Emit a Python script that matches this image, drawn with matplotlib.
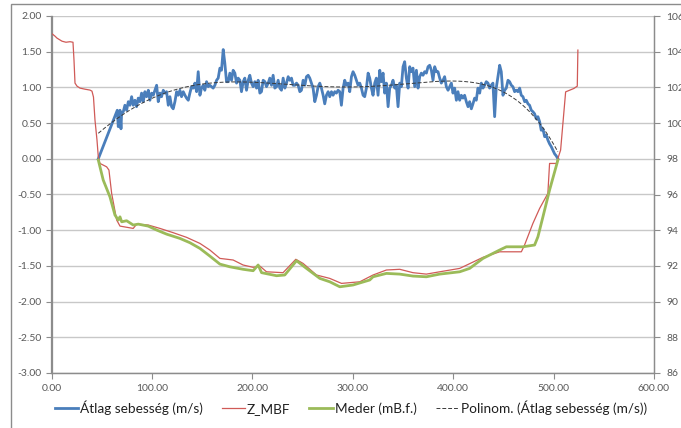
import matplotlib
matplotlib.use("Agg")
import matplotlib.pyplot as plt
import numpy as np
from matplotlib.ticker import FormatStrFormatter, MultipleLocator
from matplotlib.patches import Rectangle

# --- data ---
# mean velocity (m/s), left axis
dist_v = [46.6, 65.5, 66.5, 68.2, 69.2, 69.8, 71.5, 73.1, 74.8, 76.5, 78.1, 79.8, 81.4, 83.1, 84.7,
          86.4, 88.1, 89.7, 91.4, 93.0, 94.7, 96.4, 98.0, 99.7, 101.3, 104.7, 106.3, 108.0, 109.6,
          111.3, 112.9, 114.6, 116.3, 117.9, 119.6, 121.2, 122.9, 124.6, 126.2, 127.9, 129.5, 131.2,
          132.9, 134.5, 136.2, 137.8, 139.5, 141.1, 142.8, 144.5, 146.1, 147.8, 149.4, 151.1, 152.7,
          154.4, 156.1, 157.7, 159.4, 161.0, 162.7, 164.4, 166.0, 167.7, 169.3, 171.0, 172.6, 174.3,
          176.0, 177.6, 179.3, 180.9, 182.6, 184.3, 185.9, 187.6, 189.2, 190.9, 192.5, 194.2, 195.9,
          197.5, 199.2, 200.8, 202.5, 204.2, 205.8, 207.5, 209.1, 210.8, 212.5, 214.1, 215.8, 217.4,
          219.1, 220.7, 222.4, 224.1, 225.7, 227.4, 229.0, 230.7, 232.4, 234.0, 235.7, 237.3, 239.0,
          240.6, 242.3, 244.0, 245.6, 247.3, 248.9, 250.6, 252.3, 253.9, 255.6, 257.2, 258.9, 260.5,
          262.2, 263.9, 265.5, 267.2, 268.8, 270.5, 272.1, 273.8, 275.5, 277.1, 278.8, 280.4, 282.1,
          283.7, 285.4, 287.1, 288.7, 290.4, 292.0, 293.7, 295.4, 297.0, 298.7, 300.3, 302.0, 303.6,
          305.3, 307.0, 308.6, 310.3, 311.9, 313.6, 315.3, 316.9, 318.6, 320.2, 321.9, 323.5, 325.2,
          326.9, 328.5, 330.2, 331.8, 333.5, 335.2, 336.8, 338.5, 340.1, 341.8, 343.4, 345.1, 346.8,
          348.4, 350.1, 351.7, 353.4, 355.1, 356.7, 358.4, 360.0, 361.7, 363.4, 365.0, 366.7, 368.3,
          370.0, 371.6, 373.3, 375.0, 376.6, 378.3, 379.9, 381.6, 383.3, 384.9, 386.6, 388.2, 389.9,
          391.5, 393.2, 394.9, 396.5, 398.2, 399.8, 401.5, 403.2, 404.8, 406.5, 408.1, 409.8, 411.4,
          413.1, 414.8, 416.4, 418.1, 419.7, 421.4, 423.0, 424.7, 426.4, 428.0, 429.7, 431.3, 433.0,
          434.7, 436.3, 438.0, 439.6, 441.3, 442.9, 444.6, 446.3, 447.9, 449.6, 451.2, 452.9, 454.6,
          456.2, 457.9, 459.5, 461.2, 462.9, 464.5, 466.2, 467.8, 469.5, 471.2, 472.8, 474.5, 476.1,
          477.8, 479.4, 481.1, 482.8, 484.4, 486.1, 487.7, 489.4, 491.1, 492.7, 494.4, 496.0, 497.7,
          499.4, 501.0, 502.7, 504.3]
speed = [0.00, 0.68, 0.45, 0.68, 0.42, 0.63, 0.66, 0.75, 0.68, 0.80, 0.75, 0.87, 0.75, 0.82, 0.73,
         0.85, 0.80, 0.92, 0.80, 0.94, 0.87, 0.96, 0.82, 0.92, 0.89, 1.03, 0.80, 0.92, 0.87,
         0.96, 0.92, 0.94, 0.75, 0.87, 0.73, 0.70, 0.80, 0.94, 0.89, 0.96, 0.87, 0.94,
         0.89, 0.85, 0.82, 0.92, 1.01, 0.99, 1.06, 0.94, 1.22, 0.89, 0.99, 1.03, 0.96,
         1.08, 1.01, 1.03, 1.01, 0.99, 1.03, 1.10, 1.13, 1.27, 1.24, 1.53, 1.34, 1.08,
         1.08, 1.20, 1.10, 1.24, 1.20, 1.06, 1.13, 1.10, 0.94, 1.08, 1.13, 0.96, 1.10,
         1.17, 1.06, 1.01, 1.08, 0.99, 1.10, 0.92, 0.94, 1.10, 1.08, 1.01, 1.06, 1.13,
         1.03, 1.17, 0.99, 1.01, 1.10, 0.99, 0.96, 1.13, 0.99, 1.06, 1.15, 1.10, 1.13,
         1.03, 1.03, 1.06, 1.03, 0.94, 0.96, 1.10, 1.03, 1.15, 1.17, 1.13, 1.06, 0.99,
         0.80, 0.89, 1.01, 1.06, 0.99, 0.89, 0.77, 0.89, 0.94, 0.87, 0.94, 0.89, 0.94,
         0.92, 0.96, 0.94, 0.75, 0.99, 1.10, 1.03, 1.06, 0.94, 1.15, 1.22, 1.17, 1.10,
         1.03, 1.06, 0.99, 0.89, 0.87, 0.99, 1.20, 1.13, 0.99, 0.89, 1.06, 1.13, 0.89,
         1.24, 1.08, 1.20, 0.92, 1.06, 0.73, 0.99, 1.03, 1.10, 0.99, 1.03, 0.73, 1.06,
         1.01, 1.29, 1.36, 1.13, 0.99, 1.29, 1.22, 1.27, 1.01, 1.24, 0.99, 1.15, 1.20,
         1.17, 1.22, 1.20, 1.29, 1.31, 1.24, 1.10, 1.29, 1.22, 1.22, 1.13, 1.06, 1.10,
         1.15, 1.01, 0.96, 1.01, 1.06, 0.92, 0.99, 0.82, 0.94, 0.82, 0.89, 0.85, 0.89,
         0.80, 0.73, 0.80, 0.70, 0.77, 0.85, 0.82, 0.99, 0.92, 1.06, 0.99, 1.03, 1.08,
         1.06, 0.99, 1.03, 1.06, 0.59, 0.99, 1.15, 1.31, 1.22, 0.89, 0.96, 0.99, 1.10,
         1.08, 1.03, 1.01, 0.94, 0.96, 0.94, 0.99, 0.89, 0.87, 0.80, 0.82, 0.77, 0.75,
         0.68, 0.66, 0.63, 0.56, 0.59, 0.52, 0.40, 0.42, 0.31, 0.33, 0.26, 0.21, 0.17,
         0.12, 0.07, 0.04, 0.00]

# Z_MBF (mBf), right axis
dist_z = [0.0, 3.5, 5.5, 10.4, 14.4, 18.4, 21.4, 22.4, 23.4, 25.4, 28.4, 33.3, 38.3, 40.3, 41.8,
          43.3, 45.3, 46.6, 48.3, 54.9, 57.2, 59.9, 64.9, 68.2, 81.4, 84.8, 96.3, 108.0, 121.2,
          134.5, 147.8, 157.7, 167.7, 180.9, 190.8, 200.8, 207.5, 214.1, 230.6, 243.3, 250.5,
          263.9, 277.1, 288.8, 307.0, 320.2, 333.5, 346.8, 360.0, 373.3, 386.6, 406.5, 429.7,
          446.3, 453.0, 467.9, 471.1, 479.4, 486.1, 494.3, 496.0, 502.7, 507.0, 512.0, 520.2,
          523.6, 524.2]
z_mbf = [105.03, 104.87, 104.76, 104.59, 104.53, 104.56, 104.53, 103.53, 102.24, 102.07, 101.96,
         101.90, 101.85, 101.79, 101.46, 100.17, 99.05, 98.11, 97.74, 97.55, 97.37, 96.06, 94.57,
         94.23, 94.10, 94.34, 94.29, 94.10, 93.86, 93.60, 93.26, 92.89, 92.42, 92.33, 92.05,
         91.92, 91.99, 91.67, 91.62, 92.37, 92.14, 91.49, 91.30, 91.02, 91.11, 91.49, 91.77,
         91.81, 91.62, 91.54, 91.67, 91.86, 92.48, 92.79, 92.79, 92.79, 93.17, 94.38, 95.22,
         96.06, 97.74, 97.74, 98.49, 101.75, 101.94, 102.07, 104.09]

# Meder (mB.f.), right axis
dist_m = [46.6, 51.5, 58.2, 63.2, 66.5, 68.2, 69.9, 74.8, 81.4, 86.4, 96.3, 104.7, 114.6, 127.9,
          137.8, 147.8, 157.7, 167.7, 177.6, 190.8, 200.8, 205.8, 209.2, 224.1, 232.3, 244.0,
          253.9, 267.2, 277.1, 287.1, 300.3, 316.9, 320.2, 333.5, 346.8, 360.0, 373.3, 386.6,
          406.5, 416.4, 429.7, 446.3, 453.0, 469.5, 481.1, 484.4, 489.4, 496.0, 504.3]
meder = [97.93, 96.81, 95.87, 94.85, 94.57, 94.75, 94.47, 94.53, 94.29, 94.34, 94.23, 94.01,
         93.78, 93.54, 93.30, 92.98, 92.55, 92.10, 91.95, 91.81, 91.73, 92.05, 91.62, 91.45,
         91.49, 92.29, 91.86, 91.30, 91.11, 90.83, 90.93, 91.21, 91.39, 91.58, 91.54, 91.43,
         91.39, 91.54, 91.67, 91.86, 92.42, 92.89, 93.07, 93.07, 93.17, 93.63, 94.75, 96.25,
         97.93]

plt.rcParams["font.family"] = ["Lato", "DejaVu Sans"]
plt.rcParams["axes.unicode_minus"] = False

fig = plt.figure(figsize=(6.81, 4.28), dpi=100)
ax = fig.add_axes([51.5 / 681, 1 - 373 / 428, (654 - 51.5) / 681, (373 - 16) / 428])
ax2 = ax.twinx()

# chart area border (runs off the right and bottom edge)
fig.patches.append(Rectangle((11 / 681, -0.2), 1.2, 1.2 - 4 / 428, transform=fig.transFigure,
                             fill=False, edgecolor="#8c8c8c", lw=1.0))

grid_c = "#c8c8c8"
spine_c = "#8c8c8c"
text_c = "#595959"

ax.set_xlim(0, 600)
ax.set_ylim(-3, 2)
ax2.set_ylim(86, 106)
ax.xaxis.set_major_locator(MultipleLocator(100))
ax.yaxis.set_major_locator(MultipleLocator(0.5))
ax2.yaxis.set_major_locator(MultipleLocator(2))
ax.xaxis.set_major_formatter(FormatStrFormatter("%.2f"))
ax.yaxis.set_major_formatter(FormatStrFormatter("%.2f"))
ax2.yaxis.set_major_formatter(FormatStrFormatter("%d"))

ax.grid(axis="y", color=grid_c, lw=1.0)
ax.set_axisbelow(True)
for a in (ax, ax2):
    a.spines["top"].set_visible(False)
    for s in ("left", "right", "bottom"):
        a.spines[s].set_color(spine_c)
        a.spines[s].set_linewidth(0.9)
    a.tick_params(colors=spine_c, labelcolor=text_c, labelsize=7.5, length=4, width=0.8)
ax.tick_params(axis="y", pad=3)
ax.tick_params(axis="x", pad=4)
ax2.tick_params(axis="y", pad=5)

# polynomial trendline of the velocity, like the Excel one
trend = np.polynomial.Polynomial.fit(dist_v, speed, 5)
tx = np.linspace(min(dist_v), max(dist_v), 300)

l1, = ax.plot(dist_v, speed, color="#4a7ebb", lw=2.0, label="Átlag sebesség (m/s)")
l4, = ax.plot(tx, trend(tx), color="#3a3a3a", lw=0.7, ls=(0, (4, 2)),
              label="Polinom. (Átlag sebesség (m/s))")
l2, = ax2.plot(dist_z, z_mbf, color="#d05a57", lw=0.9, label="Z_MBF")
l3, = ax2.plot(dist_m, meder, color="#9bbb59", lw=2.0, label="Meder (mB.f.)")

fig.legend(handles=[l1, l2, l3, l4], loc="center", bbox_to_anchor=(0.515, 0.047), ncol=4,
           frameon=False, fontsize=9.8, handlelength=1.7, handletextpad=0.15,
           columnspacing=1.4, labelcolor="#202020")

fig.savefig("out.png", dpi=100)
